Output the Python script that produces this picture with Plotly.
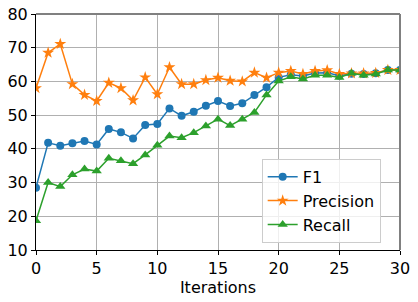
import plotly.graph_objects as go

iterations = list(range(31))
f1 = [28.5, 41.8, 40.9, 41.7, 42.3, 41.3, 45.9, 44.9, 43.1, 47.1, 47.4, 52.0, 49.8, 51.0, 52.8, 54.2,
      52.7, 53.5, 56.0, 58.3, 61.2, 62.0, 61.6, 62.5, 62.6, 61.7, 62.3, 62.2, 62.4, 63.4, 63.4]
precision = [58.0, 68.5, 71.1, 59.2, 56.0, 54.2, 59.6, 58.0, 54.4, 61.2, 56.2, 64.2, 59.2, 59.2, 60.4, 61.1,
             60.2, 60.0, 62.6, 61.1, 62.6, 63.1, 62.2, 63.1, 63.3, 62.2, 62.4, 62.4, 62.5, 63.4, 63.4]
recall = [18.7, 30.0, 28.8, 32.3, 34.0, 33.4, 37.2, 36.5, 35.6, 38.2, 41.1, 43.8, 43.3, 44.8, 46.8, 48.8,
          46.9, 48.8, 50.8, 56.0, 60.1, 61.4, 60.7, 61.8, 61.8, 61.2, 62.4, 61.8, 62.2, 63.4, 63.4]

series = [
    ("F1", f1, "#1f77b4", "circle", 8),
    ("Precision", precision, "#ff7f0e", "star", 9),
    ("Recall", recall, "#2ca02c", "triangle-up", 9),
]

fig = go.Figure()
for name, vals, color, sym, size in series:
    fig.add_trace(go.Scatter(
        x=iterations, y=vals, name=name, mode="lines+markers",
        line=dict(color=color, width=1.5),
        marker=dict(symbol=sym, size=size, color=color, line=dict(width=0)),
    ))

font = "DejaVu Sans, sans-serif"
fig.update_layout(
    width=418, height=302,
    margin=dict(l=36, r=18, t=14, b=52),
    paper_bgcolor="white", plot_bgcolor="white",
    font=dict(family=font, size=16, color="black"),
    showlegend=True,
    legend=dict(
        x=0.62, y=0.03, xanchor="left", yanchor="bottom",
        bgcolor="rgba(255,255,255,0.8)", bordercolor="#cccccc", borderwidth=1,
        font=dict(size=16), tracegroupgap=0, itemwidth=30,
    ),
)
fig.update_xaxes(
    range=[0, 30], tickvals=[0, 5, 10, 15, 20, 25, 30],
    showgrid=True, gridcolor="#b0b0b0", gridwidth=1,
    showline=True, linecolor="black", linewidth=1,
    ticks="outside", ticklen=4, tickcolor="black",
    zeroline=False, automargin=False, ticklabeloverflow="allow",
    title=dict(text="Iterations", font=dict(size=16), standoff=4),
)
fig.update_yaxes(
    range=[10, 80], tickvals=[10, 20, 30, 40, 50, 60, 70, 80],
    showgrid=True, gridcolor="#b0b0b0", gridwidth=1,
    showline=True, linecolor="black", linewidth=1,
    ticks="outside", ticklen=4, tickcolor="black",
    zeroline=False, automargin=False, ticklabeloverflow="allow",
)
fig.add_shape(type="line", xref="paper", yref="paper", x0=0, x1=1, y0=1, y1=1,
              line=dict(color="#808080", width=2))
fig.add_shape(type="line", xref="paper", yref="paper", x0=1, x1=1, y0=0, y1=1,
              line=dict(color="#808080", width=2))
fig.write_html("out.html", config={"displayModeBar": False},
               post_script="document.body.style.margin='0';")
